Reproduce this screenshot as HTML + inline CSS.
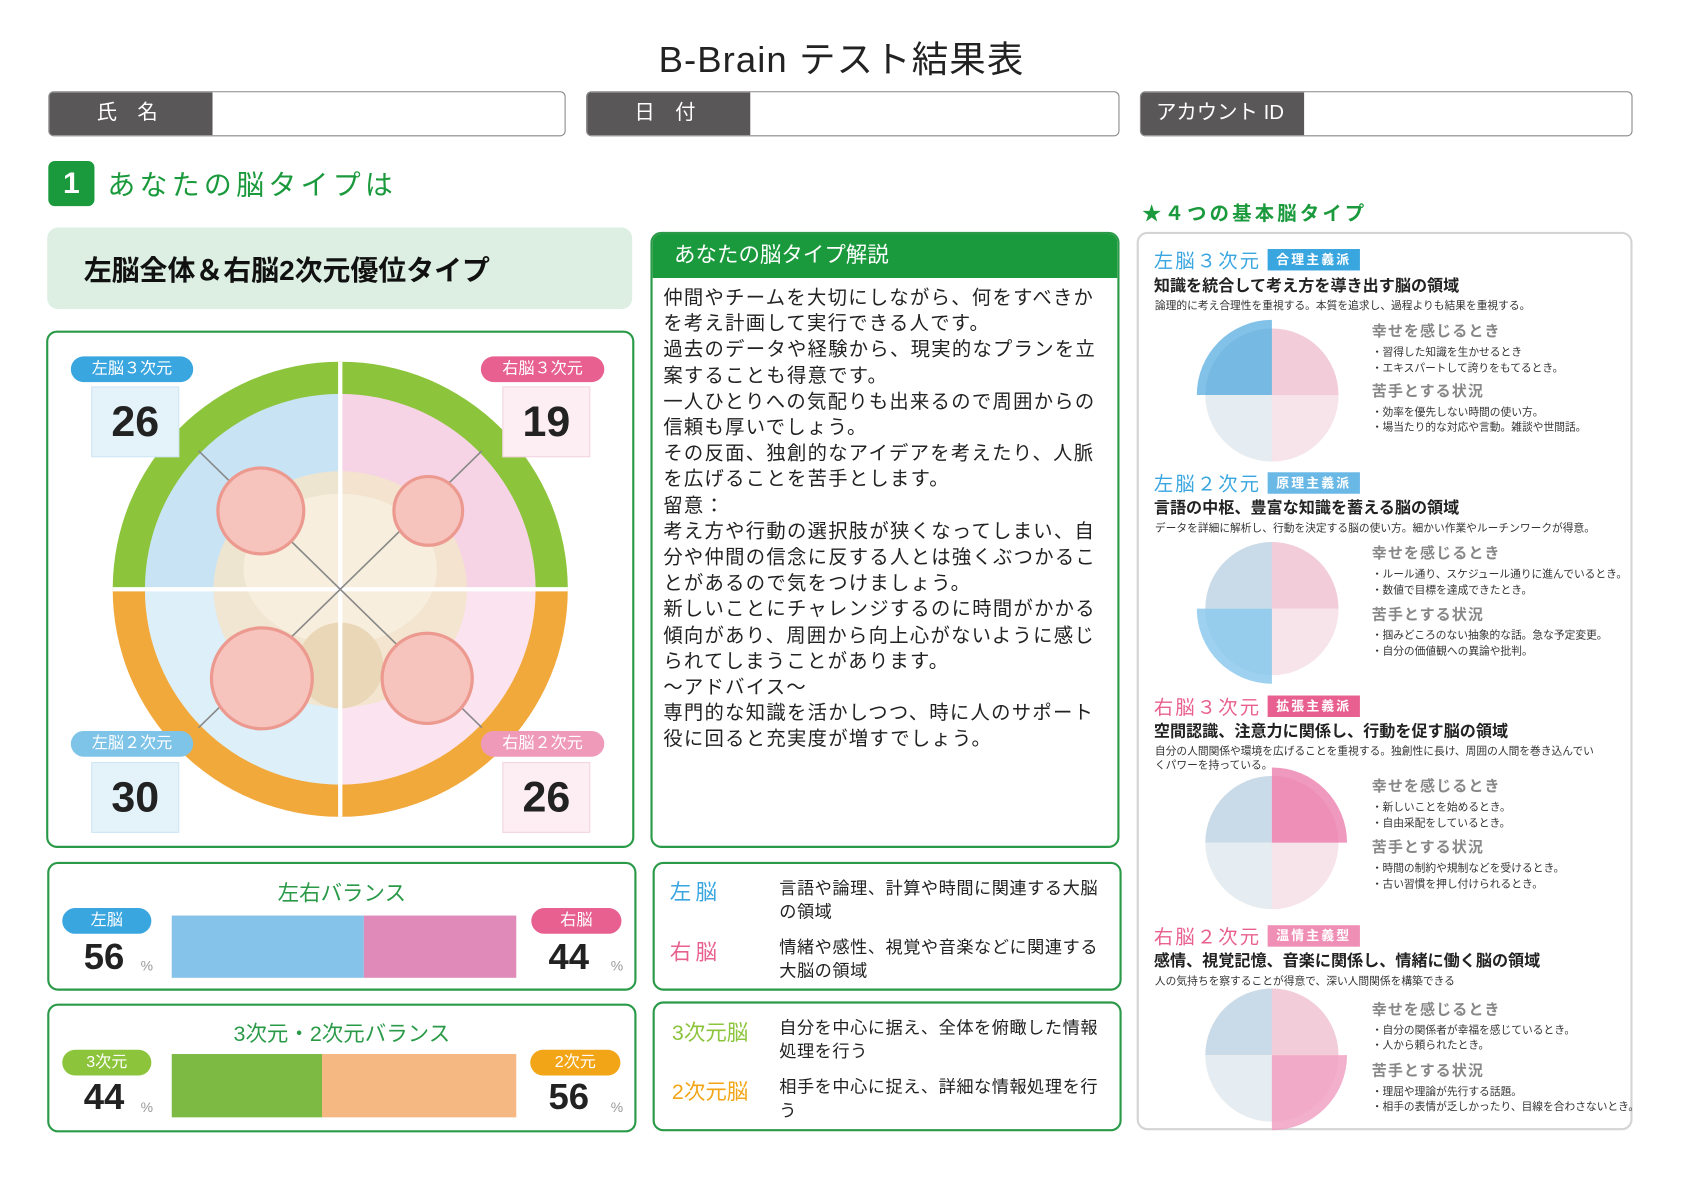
<!DOCTYPE html>
<html><head><meta charset="utf-8"><style>
html,body{margin:0;padding:0;width:1683px;height:1200px;overflow:hidden;background:#fff}
#w{position:absolute;left:0;top:0;width:1568px;height:1118px;transform:scale(1.07334);transform-origin:0 0;font-family:"Liberation Sans","Noto Sans CJK JP",sans-serif;color:#222}
.a{position:absolute;white-space:nowrap}
.hb{position:absolute;top:85px;height:40px;border:1.5px solid #888;border-radius:5px;background:#fff;overflow:hidden}
.hb .l{position:absolute;left:0;top:0;bottom:0;background:#5a5758;color:#fff;font-size:19px;line-height:40px}
.gbox{position:absolute;border:2px solid #2a9a48;border-radius:10px;background:#fff}
.pill{position:absolute;color:#fff;font-size:15px;text-align:center;border-radius:12px;height:24px;line-height:24px}
.num{position:absolute;font-weight:bold;font-size:40px;text-align:center;line-height:64px}
.big{position:absolute;font-weight:bold;font-size:34px}
.pct{position:absolute;font-size:13px;color:#999}
.s{position:absolute;font-size:10px;color:#333;white-space:nowrap}
.h{position:absolute;font-size:14px;color:#888;font-weight:bold;letter-spacing:1px}
.tg{display:inline-block;color:#fff;font-size:12px;font-weight:bold;padding:0 8px;height:20px;line-height:20px;vertical-align:3px;margin-left:6px}
.lg{position:absolute;left:726px;font-size:16px;line-height:22px;white-space:normal;width:300px;letter-spacing:0.5px}
</style></head><body><div id="w">
<div class="a" style="left:0;width:1568px;text-align:center;top:28px;font-size:34px;letter-spacing:1px">B-Brain テスト結果表</div>
<div class="hb" style="left:45px;width:480px"><div class="l" style="width:152px;padding-left:44px;box-sizing:border-box">氏　名</div></div>
<div class="hb" style="left:546px;width:495px"><div class="l" style="width:152px;padding-left:44px;box-sizing:border-box">日　付</div></div>
<div class="hb" style="left:1062px;width:457px"><div class="l" style="width:152px;padding-left:14px;box-sizing:border-box">アカウント ID</div></div>

<div class="a" style="left:45px;top:150px;width:43px;height:42px;background:#1a9a3c;border-radius:6px;color:#fff;font-weight:bold;font-size:28px;text-align:center;line-height:42px">1</div>
<div class="a" style="left:100px;top:152px;font-size:26px;color:#1a9a3c;letter-spacing:4px">あなたの脳タイプは</div>

<div class="a" style="left:44px;top:212px;width:545px;height:76px;background:#dcefe2;border-radius:10px"></div>
<div class="a" style="left:78px;top:232px;font-size:26px;font-weight:bold;color:#111">左脳全体＆右脳2次元優位タイプ</div>

<div class="gbox" style="left:43px;top:308px;width:544px;height:478px"></div>
<svg class="a" style="left:0;top:0" width="640" height="800">
<path d="M317 549 L317 337 A212 212 0 0 0 105 549Z" fill="#8cc43c"/>
<path d="M317 549 L317 337 A212 212 0 0 1 529 549Z" fill="#8cc43c"/>
<path d="M317 549 L105 549 A212 212 0 0 0 317 761Z" fill="#f2a93b"/>
<path d="M317 549 L529 549 A212 212 0 0 1 317 761Z" fill="#f2a93b"/>
<path d="M317 549 L317 367 A182 182 0 0 0 135 549Z" fill="#c8e4f4"/>
<path d="M317 549 L317 367 A182 182 0 0 1 499 549Z" fill="#f7d4e5"/>
<path d="M317 549 L135 549 A182 182 0 0 0 317 731Z" fill="#ddeff9"/>
<path d="M317 549 L499 549 A182 182 0 0 1 317 731Z" fill="#fbe4ef"/>
<ellipse cx="317" cy="549" rx="118" ry="110" fill="#f2e4cc" opacity="0.9"/>
<ellipse cx="317" cy="530" rx="90" ry="70" fill="#f7eedd"/>
<ellipse cx="317" cy="620" rx="40" ry="40" fill="#ead7b8"/>
<line x1="317" y1="337" x2="317" y2="761" stroke="#fff" stroke-width="4"/>
<line x1="105" y1="549" x2="529" y2="549" stroke="#fff" stroke-width="4"/>
<g stroke="#888" stroke-width="1.5"><line x1="185" y1="420" x2="449" y2="678"/><line x1="449" y1="420" x2="185" y2="678"/></g>
<g fill="#f7c3bd" stroke="#ec9a90" stroke-width="3">
<circle cx="243" cy="476" r="40"/><circle cx="399" cy="476" r="32"/><circle cx="244" cy="632" r="47"/><circle cx="398" cy="632" r="42"/></g>
</svg>
<div class="pill" style="left:66px;top:332px;width:114px;background:#3aa6e0">左脳３次元</div>
<div class="num" style="left:85px;top:360px;width:80px;height:64px;background:#e4f2fa;border:1px solid #cfe6f4">26</div>
<div class="pill" style="left:448px;top:332px;width:115px;background:#e8608f">右脳３次元</div>
<div class="num" style="left:468px;top:360px;width:80px;height:64px;background:#fdeef4;border:1px solid #f3d5e1">19</div>
<div class="pill" style="left:66px;top:681px;width:114px;background:#7ec3e8">左脳２次元</div>
<div class="num" style="left:85px;top:710px;width:80px;height:64px;background:#e4f2fa;border:1px solid #cfe6f4">30</div>
<div class="pill" style="left:448px;top:681px;width:115px;background:#ef9ab9">右脳２次元</div>
<div class="num" style="left:468px;top:710px;width:80px;height:64px;background:#fdeef4;border:1px solid #f3d5e1">26</div>

<div class="gbox" style="left:606px;top:216px;width:433px;height:570px;overflow:hidden">
<div style="height:41px;background:#1a9a3c;color:#fff;font-size:20px;line-height:41px;padding-left:20px">あなたの脳タイプ解説</div>
<div style="padding:6px 8px 0 10px;font-size:18px;line-height:24.2px;letter-spacing:1.2px;color:#222">仲間やチームを大切にしながら、何をすべきかを考え計画して実行できる人です。<br>過去のデータや経験から、現実的なプランを立案することも得意です。<br>一人ひとりへの気配りも出来るので周囲からの信頼も厚いでしょう。<br>その反面、独創的なアイデアを考えたり、人脈を広げることを苦手とします。<br>留意：<br>考え方や行動の選択肢が狭くなってしまい、自分や仲間の信念に反する人とは強くぶつかることがあるので気をつけましょう。<br>新しいことにチャレンジするのに時間がかかる傾向があり、周囲から向上心がないように感じられてしまうことがあります。<br>～アドバイス～<br>専門的な知識を活かしつつ、時に人のサポート役に回ると充実度が増すでしょう。</div></div>

<div class="gbox" style="left:44px;top:803px;width:545px;height:116px"></div>
<div class="a" style="left:44px;width:549px;text-align:center;top:816px;font-size:20px;color:#2a9a48">左右バランス</div>
<div class="pill" style="left:58px;top:846px;width:83px;background:#3aa6e0">左脳</div>
<div class="big" style="left:78px;top:873px">56</div><div class="pct" style="left:131px;top:892px">%</div>
<div class="a" style="left:160px;top:853px;width:179px;height:58px;background:#86c3ea"></div>
<div class="a" style="left:339px;top:853px;width:142px;height:58px;background:#df8ab8"></div>
<div class="pill" style="left:495px;top:846px;width:84px;background:#e8608f">右脳</div>
<div class="big" style="left:511px;top:873px">44</div><div class="pct" style="left:569px;top:892px">%</div>

<div class="gbox" style="left:44px;top:935px;width:545px;height:116px"></div>
<div class="a" style="left:44px;width:549px;text-align:center;top:947px;font-size:20px;color:#2a9a48">3次元・2次元バランス</div>
<div class="pill" style="left:58px;top:978px;width:83px;background:#8cc43c">3次元</div>
<div class="big" style="left:78px;top:1003px">44</div><div class="pct" style="left:131px;top:1024px">%</div>
<div class="a" style="left:160px;top:982px;width:140px;height:59px;background:#7cba44"></div>
<div class="a" style="left:300px;top:982px;width:181px;height:59px;background:#f6b883"></div>
<div class="pill" style="left:494px;top:978px;width:84px;background:#f2a516">2次元</div>
<div class="big" style="left:511px;top:1003px">56</div><div class="pct" style="left:569px;top:1024px">%</div>

<div class="gbox" style="left:608px;top:803px;width:433px;height:116px"></div>
<div class="a" style="left:624px;top:815px;font-size:20px;color:#3aa6e0;letter-spacing:4px">左脳</div>
<div class="lg" style="top:818px">言語や論理、計算や時間に関連する大脳の領域</div>
<div class="a" style="left:624px;top:871px;font-size:20px;color:#e8608f;letter-spacing:4px">右脳</div>
<div class="lg" style="top:873px">情緒や感性、視覚や音楽などに関連する大脳の領域</div>

<div class="gbox" style="left:608px;top:933px;width:433px;height:117px"></div>
<div class="a" style="left:626px;top:946px;font-size:20px;color:#8cc43c">3次元脳</div>
<div class="lg" style="top:948px">自分を中心に据え、全体を俯瞰した情報処理を行う</div>
<div class="a" style="left:626px;top:1001px;font-size:20px;color:#f2a516">2次元脳</div>
<div class="lg" style="top:1003px">相手を中心に捉え、詳細な情報処理を行う</div>

<div class="a" style="left:1064px;top:185px;font-size:18px;color:#1a9a3c;font-weight:bold;letter-spacing:3px">★４つの基本脳タイプ</div>
<div class="a" style="left:1059px;top:216px;width:458px;height:833px;border:2px solid #d4d4d4;border-radius:10px"></div>
<svg class="a" style="left:1080px;top:280px" width="200" height="780">
<defs><g id="br"><circle r="62" fill="#f3e3d3"/><path d="M0 0 L0 -62 A62 62 0 0 0 -62 0Z" fill="#c9dbe9"/><path d="M0 0 L0 -62 A62 62 0 0 1 62 0Z" fill="#f2ccd9"/><path d="M0 0 L-62 0 A62 62 0 0 0 0 62Z" fill="#e6edf2"/><path d="M0 0 L62 0 A62 62 0 0 1 0 62Z" fill="#f6e4ea"/></g></defs>
<g transform="translate(105,88)"><use href="#br"/><path d="M0 0 L0 -70 A70 70 0 0 0 -70 0Z" fill="#5aaee0" opacity="0.75"/></g>
<g transform="translate(105,287)"><use href="#br"/><path d="M0 0 L-70 0 A70 70 0 0 0 0 70Z" fill="#7cc2ea" opacity="0.75"/></g>
<g transform="translate(105,505)"><use href="#br"/><path d="M0 0 L0 -70 A70 70 0 0 1 70 0Z" fill="#ec7fae" opacity="0.8"/></g>
<g transform="translate(105,703)"><use href="#br"/><path d="M0 0 L70 0 A70 70 0 0 1 0 70Z" fill="#f09cc0" opacity="0.8"/></g>
</svg>

<div class="a" style="left:1075px;top:229px;font-size:18px;color:#3aa6e0;letter-spacing:2px">左脳３次元<span class="tg" style="background:#3aa6e0">合理主義派</span></div>
<div class="a" style="left:1075px;top:255px;font-size:15px;font-weight:bold">知識を統合して考え方を導き出す脳の領域</div>
<div class="s" style="left:1076px;top:276px">論理的に考え合理性を重視する。本質を追求し、過程よりも結果を重視する。</div>
<div class="h" style="left:1278px;top:298px">幸せを感じるとき</div>
<div class="s" style="left:1278px;top:319px">・習得した知識を生かせるとき</div><div class="s" style="left:1278px;top:334px">・エキスパートして誇りをもてるとき。</div>
<div class="h" style="left:1278px;top:354px">苦手とする状況</div>
<div class="s" style="left:1278px;top:375px">・効率を優先しない時間の使い方。</div><div class="s" style="left:1278px;top:389px">・場当たり的な対応や言動。雑談や世間話。</div>

<div class="a" style="left:1075px;top:437px;font-size:18px;color:#3aa6e0;letter-spacing:2px">左脳２次元<span class="tg" style="background:#6ab8e6">原理主義派</span></div>
<div class="a" style="left:1075px;top:462px;font-size:15px;font-weight:bold">言語の中枢、豊富な知識を蓄える脳の領域</div>
<div class="s" style="left:1076px;top:483px">データを詳細に解析し、行動を決定する脳の使い方。細かい作業やルーチンワークが得意。</div>
<div class="h" style="left:1278px;top:505px">幸せを感じるとき</div>
<div class="s" style="left:1278px;top:526px">・ルール通り、スケジュール通りに進んでいるとき。</div><div class="s" style="left:1278px;top:541px">・数値で目標を達成できたとき。</div>
<div class="h" style="left:1278px;top:562px">苦手とする状況</div>
<div class="s" style="left:1278px;top:583px">・掴みどころのない抽象的な話。急な予定変更。</div><div class="s" style="left:1278px;top:598px">・自分の価値観への異論や批判。</div>

<div class="a" style="left:1075px;top:645px;font-size:18px;color:#e8608f;letter-spacing:2px">右脳３次元<span class="tg" style="background:#e8608f">拡張主義派</span></div>
<div class="a" style="left:1075px;top:670px;font-size:15px;font-weight:bold">空間認識、注意力に関係し、行動を促す脳の領域</div>
<div class="s" style="left:1076px;top:691px">自分の人間関係や環境を広げることを重視する。独創性に長け、周囲の人間を巻き込んでい</div>
<div class="s" style="left:1076px;top:704px">くパワーを持っている。</div>
<div class="h" style="left:1278px;top:722px">幸せを感じるとき</div>
<div class="s" style="left:1278px;top:743px">・新しいことを始めるとき。</div><div class="s" style="left:1278px;top:758px">・自由采配をしているとき。</div>
<div class="h" style="left:1278px;top:779px">苦手とする状況</div>
<div class="s" style="left:1278px;top:800px">・時間の制約や規制などを受けるとき。</div><div class="s" style="left:1278px;top:815px">・古い習慣を押し付けられるとき。</div>

<div class="a" style="left:1075px;top:859px;font-size:18px;color:#e8608f;letter-spacing:2px">右脳２次元<span class="tg" style="background:#ef8fb5">温情主義型</span></div>
<div class="a" style="left:1075px;top:884px;font-size:15px;font-weight:bold">感情、視覚記憶、音楽に関係し、情緒に働く脳の領域</div>
<div class="s" style="left:1076px;top:905px">人の気持ちを察することが得意で、深い人間関係を構築できる</div>
<div class="h" style="left:1278px;top:930px">幸せを感じるとき</div>
<div class="s" style="left:1278px;top:951px">・自分の関係者が幸福を感じているとき。</div><div class="s" style="left:1278px;top:965px">・人から頼られたとき。</div>
<div class="h" style="left:1278px;top:987px">苦手とする状況</div>
<div class="s" style="left:1278px;top:1008px">・理屈や理論が先行する話題。</div><div class="s" style="left:1278px;top:1022px">・相手の表情が乏しかったり、目線を合わさないとき。</div>
</div></body></html>
